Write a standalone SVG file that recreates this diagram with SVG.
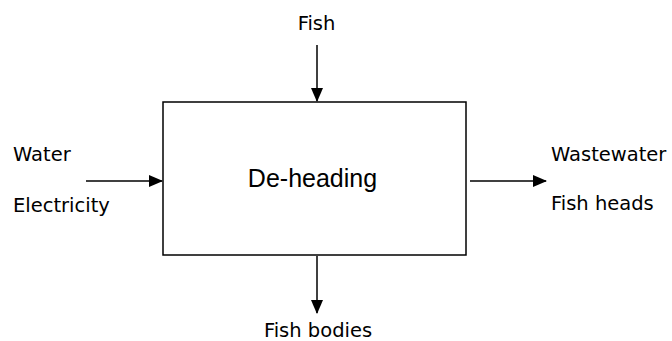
<svg xmlns="http://www.w3.org/2000/svg" width="672" height="341" viewBox="0 0 672 341">
  <style>
    .lbl { font-family: "DejaVu Sans", "Liberation Sans", sans-serif; font-size: 19.5px; fill: #000; }
    .main { font-family: "Liberation Sans", Arial, sans-serif; font-size: 25px; fill: #000; }
    .flow { stroke: #000; stroke-width: 1.5; fill: none; marker-end: url(#head); }
  </style>
  <defs>
    <marker id="head" markerWidth="14" markerHeight="12" refX="13" refY="6" orient="auto" markerUnits="userSpaceOnUse">
      <path d="M0,0 L14,6 L0,12 Z" fill="#000"/>
    </marker>
  </defs>
  <rect width="672" height="341" fill="#fff"/>

  <g id="process">
    <rect x="163" y="102" width="303" height="153" fill="#fff" stroke="#000" stroke-width="1.5"/>
    <text class="main" x="312.5" y="187" text-anchor="middle">De-heading</text>
  </g>

  <g id="input-fish">
    <text class="lbl" x="316.5" y="30" text-anchor="middle">Fish</text>
  </g>
  <g id="input-utilities">
    <text class="lbl" x="13" y="161">Water</text>
    <text class="lbl" x="13" y="212">Electricity</text>
  </g>
  <g id="output-side">
    <text class="lbl" x="551" y="161">Wastewater</text>
    <text class="lbl" x="551" y="210">Fish heads</text>
  </g>
  <g id="output-bodies">
    <text class="lbl" x="318" y="336.5" text-anchor="middle">Fish bodies</text>
  </g>

  <g id="connectors">
    <line class="flow" x1="317" y1="45" x2="317" y2="101"/>
    <line class="flow" x1="86" y1="181" x2="162" y2="181"/>
    <line class="flow" x1="470" y1="181" x2="546" y2="181"/>
    <line class="flow" x1="317" y1="256" x2="317" y2="313"/>
  </g>
</svg>
